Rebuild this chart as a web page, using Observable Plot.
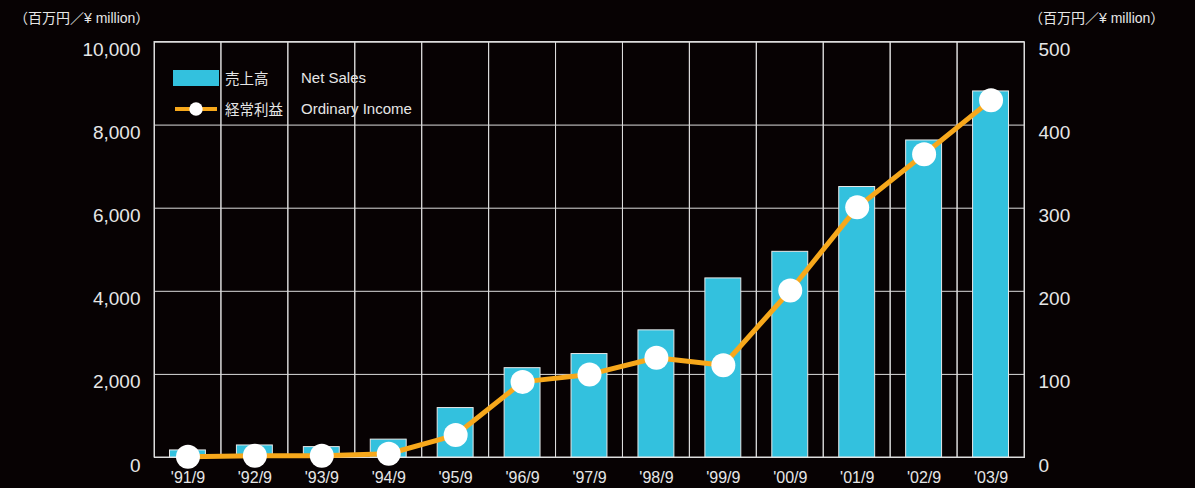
<!DOCTYPE html>
<html>
<head>
<meta charset="utf-8">
<script src="https://cdn.jsdelivr.net/npm/d3@7"></script>
<script src="https://cdn.jsdelivr.net/npm/@observablehq/plot@0.6"></script>
<style>
  body { margin: 0; background: #070203; }
  #wrap { position: relative; width: 1195px; height: 488px; background: #070203;
          font-family: "Liberation Sans", "Noto Sans CJK JP", sans-serif; color: #e6e6e6; overflow: hidden; }
  .unit { position: absolute; top: 11px; font-size: 14px; line-height: 14px; white-space: nowrap; }
  .leg { position: absolute; font-size: 15px; line-height: 16px; white-space: nowrap; }
  .jp { font-family: "Noto Sans CJK JP", sans-serif; font-size: 14.5px; }
</style>
</head>
<body>
<div id="wrap"></div>
<script>
// ---- data ----
const categories = ["'91/9", "'92/9", "'93/9", "'94/9", "'95/9", "'96/9", "'97/9", "'98/9", "'99/9", "'00/9", "'01/9", "'02/9", "'03/9"];
const netSales = [170, 290, 250, 430, 1190, 2150, 2490, 3060, 4310, 4950, 6510, 7630, 8810];
const ordinaryIncome = [1, 2, 2, 4.5, 27, 91, 100, 120, 111, 201, 301, 365, 430];
const leftTicks = [0, 2000, 4000, 6000, 8000, 10000];
const rightTicks = [0, 100, 200, 300, 400, 500];
const unitLabel = "（百万円／¥ million）";
const legendSales = ["売上高", "Net Sales"];
const legendIncome = ["経常利益", "Ordinary Income"];

const leftMax = leftTicks[leftTicks.length - 1];
const rightMax = rightTicks[rightTicks.length - 1];
const ratio = leftMax / rightMax;

const rows = categories.map((c, i) => ({cat: c, sales: netSales[i], income: ordinaryIncome[i]}));

const gridColor = "#dcdcdc";
const barColor = "#33c1de";
const lineColor = "#f7a81b";
const textColor = "#e6e6e6";

const chart = Plot.plot({
  width: 1195,
  height: 488,
  marginLeft: 154,
  marginRight: 171,
  marginTop: 41.5,
  marginBottom: 31,
  style: {background: "transparent", color: textColor, fontFamily: '"Liberation Sans", "Noto Sans CJK JP", sans-serif', fontSize: "19px"},
  x: {type: "band", domain: categories, padding: 0, round: false, axis: null},
  y: {domain: [0, leftMax], nice: false, axis: null},
  marks: [
    Plot.gridY(leftTicks, {stroke: gridColor, strokeOpacity: 1, strokeWidth: 1}),
    Plot.barY(categories, {x: d => d, y1: 0, y2: leftMax, fill: "none", stroke: gridColor, strokeWidth: 1}),
    Plot.frame({stroke: gridColor, strokeWidth: 1}),
    Plot.barY(rows, {x: "cat", y: "sales", fill: barColor, stroke: "#e8e8e8", strokeWidth: 1, insetLeft: 15.5, insetRight: 15.5}),
    Plot.line(rows, {x: "cat", y: d => d.income * ratio, stroke: lineColor, strokeWidth: 5}),
    Plot.dot(rows, {x: "cat", y: d => d.income * ratio, r: 12, fill: "white", stroke: "none"}),
    Plot.axisY({anchor: "left", ticks: leftTicks, tickSize: 0, tickPadding: 14, dy: 8, tickFormat: d3.format(","), fontSize: 19, label: null}),
    Plot.axisY({anchor: "right", ticks: rightTicks.map(v => v * ratio), tickSize: 0, tickPadding: 14, dy: 8, tickFormat: d => d3.format(",")(d / ratio), fontSize: 19, label: null}),
    Plot.axisX({ticks: categories, tickSize: 0, tickPadding: 14, fontSize: 16, label: null})
  ]
});

const wrap = document.getElementById("wrap");
wrap.appendChild(chart);

function addDiv(cls, text, left, top) {
  const d = document.createElement("div");
  d.className = cls;
  d.textContent = text;
  d.style.left = left + "px";
  if (top !== undefined) d.style.top = top + "px";
  wrap.appendChild(d);
  return d;
}
addDiv("unit", unitLabel, 14);
addDiv("unit", unitLabel, 1029);

// legend
const sw = document.createElement("div");
Object.assign(sw.style, {position: "absolute", left: "173px", top: "70px", width: "46px", height: "16px", background: barColor});
wrap.appendChild(sw);
addDiv("leg jp", legendSales[0], 225, 70);
addDiv("leg", legendSales[1], 301, 70);

const ns = "http://www.w3.org/2000/svg";
const ls = document.createElementNS(ns, "svg");
ls.setAttribute("width", 46); ls.setAttribute("height", 20);
Object.assign(ls.style, {position: "absolute", left: "173px", top: "99px"});
const ln = document.createElementNS(ns, "line");
ln.setAttribute("x1", 2); ln.setAttribute("x2", 44); ln.setAttribute("y1", 10); ln.setAttribute("y2", 10);
ln.setAttribute("stroke", lineColor); ln.setAttribute("stroke-width", 4);
ls.appendChild(ln);
const cc = document.createElementNS(ns, "circle");
cc.setAttribute("cx", 23); cc.setAttribute("cy", 10); cc.setAttribute("r", 6.7); cc.setAttribute("fill", "white");
ls.appendChild(cc);
wrap.appendChild(ls);
addDiv("leg jp", legendIncome[0], 225, 101);
addDiv("leg", legendIncome[1], 301, 101);
</script>
</body>
</html>
